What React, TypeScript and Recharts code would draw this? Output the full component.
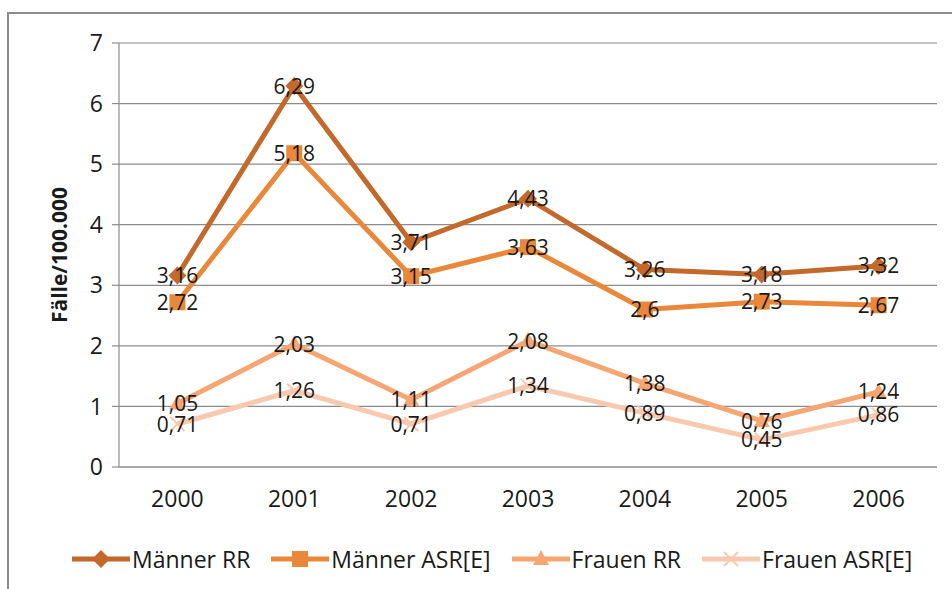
import { LineChart, Line, XAxis, YAxis, CartesianGrid, LabelList } from 'recharts';

const years = [2000, 2001, 2002, 2003, 2004, 2005, 2006];
const maennerRR = [3.16, 6.29, 3.71, 4.43, 3.26, 3.18, 3.32];
const maennerASR = [2.72, 5.18, 3.15, 3.63, 2.6, 2.73, 2.67];
const frauenRR = [1.05, 2.03, 1.11, 2.08, 1.38, 0.76, 1.24];
const frauenASR = [0.71, 1.26, 0.71, 1.34, 0.89, 0.45, 0.86];
const yTicks = [0, 1, 2, 3, 4, 5, 6, 7];
// category boundaries, where Excel draws the x tick marks
const boundaryTicks = [1999.5, 2000.5, 2001.5, 2002.5, 2003.5, 2004.5, 2005.5, 2006.5];

const FONT = '"Open Sans", Lato, sans-serif';
const GRID = '#8c8c8c';

type Shape = 'diamond' | 'square' | 'triangle' | 'cross';

const series: { key: string; name: string; color: string; shape: Shape }[] = [
  { key: 'mRR', name: 'Männer RR', color: '#C3692B', shape: 'diamond' },
  { key: 'mASR', name: 'Männer ASR[E]', color: '#E9883B', shape: 'square' },
  { key: 'fRR', name: 'Frauen RR', color: '#F5A673', shape: 'triangle' },
  { key: 'fASR', name: 'Frauen ASR[E]', color: '#F8C9AF', shape: 'cross' },
];

const data = years.map((year, i) => ({
  year,
  mRR: maennerRR[i],
  mASR: maennerASR[i],
  fRR: frauenRR[i],
  fASR: frauenASR[i],
}));

function Marker({ shape, color, cx, cy }: { shape: Shape; color: string; cx: number; cy: number }) {
  if (shape === 'diamond') {
    return <polygon points={`${cx},${cy - 9} ${cx + 9},${cy} ${cx},${cy + 9} ${cx - 9},${cy}`} fill={color} />;
  }
  if (shape === 'square') {
    return <rect x={cx - 8} y={cy - 8} width={16} height={16} fill={color} />;
  }
  if (shape === 'triangle') {
    return <polygon points={`${cx},${cy - 9} ${cx + 8},${cy + 6} ${cx - 8},${cy + 6}`} fill={color} />;
  }
  return (
    <g stroke={color} strokeWidth={2}>
      <line x1={cx - 7} y1={cy - 7} x2={cx + 7} y2={cy + 7} />
      <line x1={cx - 7} y1={cy + 7} x2={cx + 7} y2={cy - 7} />
    </g>
  );
}

const renderDot = (shape: Shape, color: string) => (props: any) => {
  const { cx, cy, index } = props;
  if (cx == null || cy == null) return <g key={index} />;
  return <Marker key={index} shape={shape} color={color} cx={cx} cy={cy} />;
};

const renderValue = (props: any) => {
  const { x, y, value } = props;
  return (
    <text x={x} y={y} dy="0.36em" textAnchor="middle" fontSize={21} fill="#1a1a1a" fontFamily={FONT}>
      {String(value).replace('.', ',')}
    </text>
  );
};

function LegendBox() {
  return (
    <div
      style={{
        position: 'absolute',
        left: 72,
        top: 543,
        display: 'flex',
        alignItems: 'center',
        fontFamily: FONT,
        fontSize: 23,
        color: '#1a1a1a',
        whiteSpace: 'nowrap',
      }}
    >
      {series.map(s => (
        <div key={s.key} style={{ display: 'flex', alignItems: 'center', marginRight: 21 }}>
          <svg width={58} height={24}>
            <line x1={0} y1={12} x2={58} y2={12} stroke={s.color} strokeWidth={5} />
            <Marker shape={s.shape} color={s.color} cx={29} cy={12} />
          </svg>
          <span style={{ marginLeft: 2 }}>{s.name}</span>
        </div>
      ))}
    </div>
  );
}

export default function App() {
  return (
    <div style={{ position: 'absolute', left: 0, top: 0, width: 952, height: 589, background: '#fff', overflow: 'hidden' }}>
      <div
        style={{
          position: 'absolute',
          left: 7,
          top: 12,
          width: 960,
          height: 600,
          borderLeft: `2px solid ${GRID}`,
          borderTop: `2px solid ${GRID}`,
        }}
      />
      <div style={{ position: 'absolute', left: 0, top: 0 }}>
        <LineChart width={952} height={589} data={data} margin={{ top: 43, right: 15, bottom: 71, left: 0 }}>
          <CartesianGrid vertical={false} stroke={GRID} strokeWidth={1.2} />
          <XAxis
            dataKey="year"
            type="number"
            domain={[1999.5, 2006.5]}
            ticks={years}
            tickLine={false}
            axisLine={{ stroke: GRID, strokeWidth: 1.2 }}
            tick={{ fontSize: 23, fill: '#1a1a1a', fontFamily: FONT }}
            tickMargin={18}
            interval={0}
            height={50}
          />
          <XAxis
            xAxisId="bounds"
            dataKey="year"
            type="number"
            domain={[1999.5, 2006.5]}
            ticks={boundaryTicks}
            axisLine={false}
            tickLine={{ stroke: GRID, strokeWidth: 1.2 }}
            tickSize={7}
            tick={false}
            interval={0}
            height={1}
          />
          <YAxis
            domain={[0, 7]}
            ticks={yTicks}
            width={119}
            interval={0}
            axisLine={{ stroke: GRID, strokeWidth: 1.2 }}
            tickLine={{ stroke: GRID, strokeWidth: 1.2 }}
            tickSize={7}
            tickMargin={9}
            tick={{ fontSize: 23, fill: '#1a1a1a', fontFamily: FONT }}
            label={(props: any) => {
              const vb = props.viewBox;
              const cx = 60;
              const cy = vb.y + vb.height / 2;
              return (
                <text
                  x={cx}
                  y={cy}
                  transform={`rotate(-90, ${cx}, ${cy})`}
                  textAnchor="middle"
                  dy="0.35em"
                  fontSize={21}
                  fontWeight="bold"
                  fill="#1a1a1a"
                  fontFamily={FONT}
                >
                  Fälle/100.000
                </text>
              );
            }}
          />
          {series.map(s => (
            <Line
              key={s.key}
              dataKey={s.key}
              name={s.name}
              type="linear"
              stroke={s.color}
              strokeWidth={5}
              dot={renderDot(s.shape, s.color)}
              activeDot={false}
              isAnimationActive={false}
            >
              <LabelList dataKey={s.key} content={renderValue} />
            </Line>
          ))}
        </LineChart>
      </div>
      <LegendBox />
    </div>
  );
}
